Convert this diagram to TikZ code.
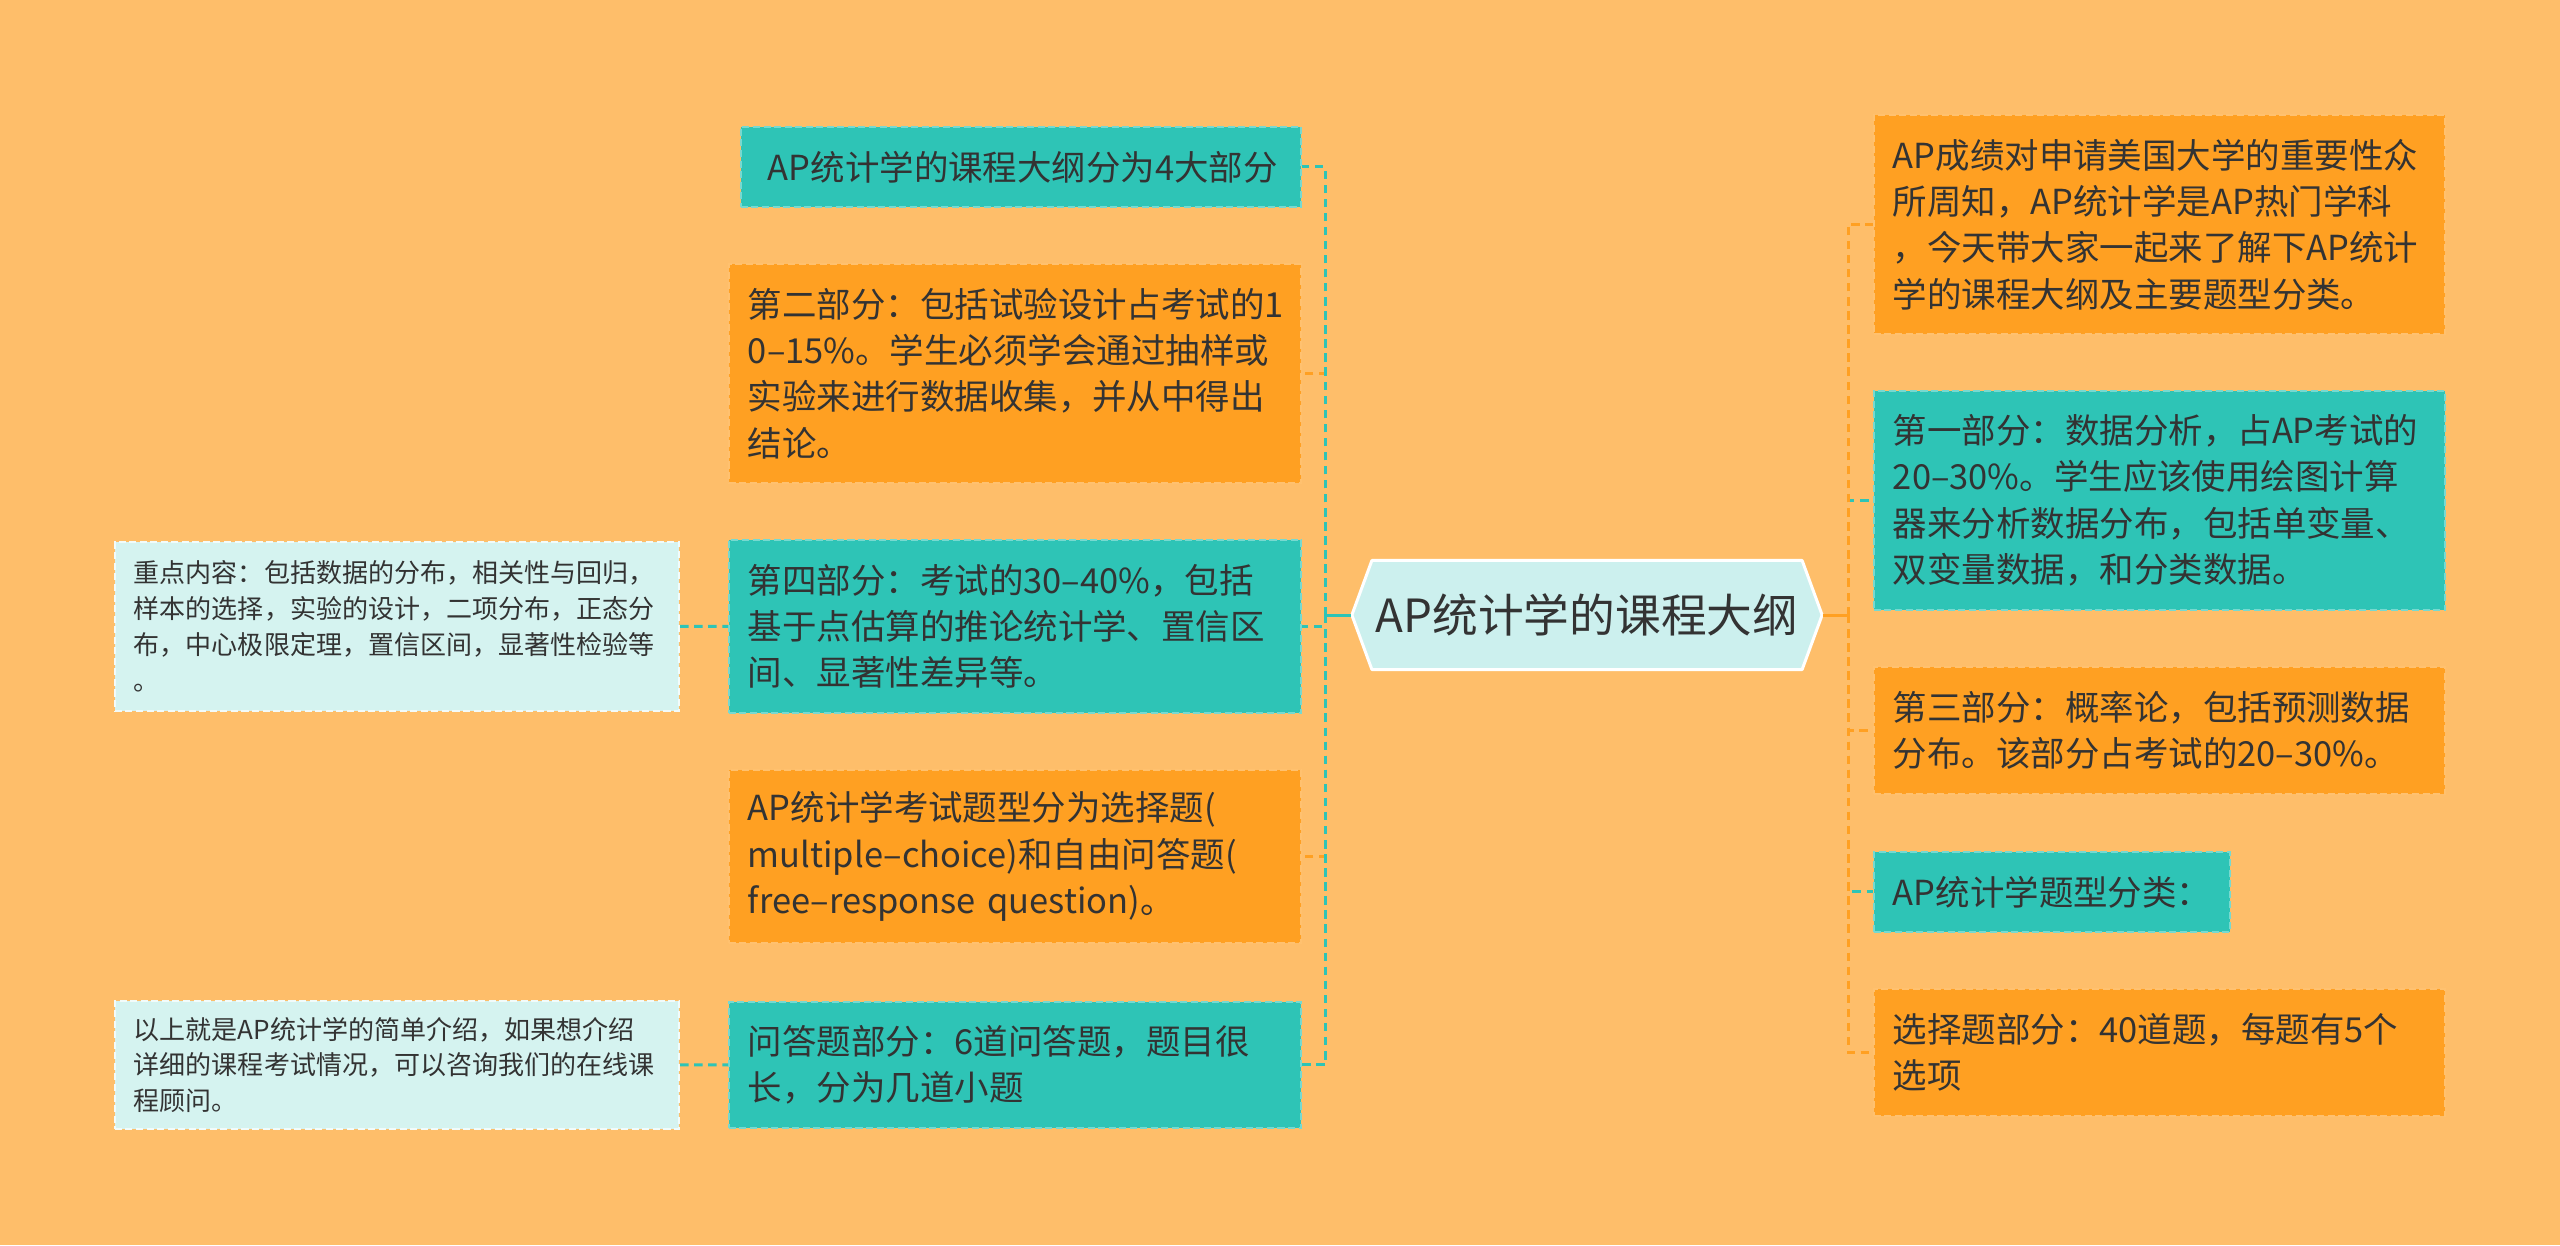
\documentclass[tikz,border=0pt]{standalone}
\usepackage{fontspec}
\setmainfont{Noto Sans CJK SC}
\definecolor{bgorange}{HTML}{FEBE6A}
\definecolor{boxorange}{HTML}{FFA022}
\definecolor{boxteal}{HTML}{2EC4B6}
\definecolor{notecyan}{HTML}{D5F3F0}
\definecolor{hexcyan}{HTML}{CCF0EE}
\definecolor{inkgray}{HTML}{333333}
\usepackage{tikz}

\begin{document}
\begin{tikzpicture}[x=0.01cm,y=-0.01cm,
    box/.style={anchor=north west,draw,dashed,dash pattern=on 2pt off 1pt,
      line width=0.5pt,align=left,text=inkgray,inner xsep=0.19cm,
      font=\fontsize{9.8}{13.2}\selectfont},
    orangebox/.style={box,fill=boxorange,draw=boxorange!65!white},
    tealbox/.style={box,fill=boxteal,draw=boxteal!65!white},
    notebox/.style={box,fill=notecyan,draw=white!70!notecyan,
      font=\fontsize{7.4}{10.2}\selectfont},
    orangeline/.style={draw=boxorange,line width=0.85pt,dash pattern=on 2.4pt off 1.6pt},
    tealline/.style={draw=boxteal,line width=0.85pt,dash pattern=on 2.4pt off 1.6pt}]
  \path[use as bounding box] (0,0) rectangle (2560,1245);
  \fill[bgorange] (0,0) rectangle (2560,1245);

  % centre
  \coordinate (mc) at (1587,615);
  \filldraw[fill=hexcyan,draw=white,line width=0.85pt,line join=round]
    ([xshift=-2.35cm]mc) -- ([shift={(-2.15cm,0.545cm)}]mc)
    -- ([shift={(2.15cm,0.545cm)}]mc) -- ([xshift=2.35cm]mc)
    -- ([shift={(2.15cm,-0.545cm)}]mc) -- ([shift={(-2.15cm,-0.545cm)}]mc)
    -- cycle;
  \node[minimum width=4.7cm,minimum height=1.09cm,inner sep=0,text=inkgray,
    font=\fontsize{13}{16}\selectfont] (main) at (mc) {AP统计学的课程大纲};

  % left column
  \node[tealbox,text width=5.06cm,inner xsep=0.27cm,minimum height=0.8cm]
    (syllabus) at (740,126) {AP统计学的课程大纲分为4大部分};
  \node[orangebox,text width=5.34cm,minimum height=2.19cm] (part2) at (728,263)
    {第二部分：包括试验设计占考试的1\\0–15\%。学生必须学会通过抽样或\\
     实验来进行数据收集，并从中得出\\结论。};
  \node[tealbox,text width=5.34cm,minimum height=1.73cm] (part4) at (728,539)
    {第四部分：考试的30–40\%，包括\\基于点估算的推论统计学、置信区\\
     间、显著性差异等。};
  \node[orangebox,text width=5.34cm,minimum height=1.73cm] (qtypes) at (728,769)
    {AP统计学考试题型分为选择题(\\multiple–choice)和自由问答题(\\
     free–response question)。};
  \node[tealbox,text width=5.34cm,minimum height=1.26cm] (frq) at (728,1001)
    {问答题部分：6道问答题，题目很\\长，分为几道小题};

  % notes on the far left
  \node[notebox,text width=5.26cm,minimum height=1.69cm] (keypts) at (114,541)
    {重点内容：包括数据的分布，相关性与回归，\\样本的选择，实验的设计，二项分布，正态分\\
     布，中心极限定理，置信区间，显著性检验等\\。};
  \node[notebox,text width=5.26cm,minimum height=1.28cm] (closing) at (114,1000)
    {以上就是AP统计学的简单介绍，如果想介绍\\详细的课程考试情况，可以咨询我们的在线课\\
     程顾问。};

  % right column
  \node[orangebox,text width=5.33cm,minimum height=2.19cm] (intro) at (1873,114)
    {AP成绩对申请美国大学的重要性众\\所周知，AP统计学是AP热门学科\\
     ，今天带大家一起来了解下AP统计\\学的课程大纲及主要题型分类。};
  \node[tealbox,text width=5.33cm,minimum height=2.19cm] (part1) at (1873,390)
    {第一部分：数据分析，占AP考试的\\20–30\%。学生应该使用绘图计算\\
     器来分析数据分布，包括单变量、\\双变量数据，和分类数据。};
  \node[orangebox,text width=5.33cm,minimum height=1.27cm] (part3) at (1873,666)
    {第三部分：概率论，包括预测数据\\分布。该部分占考试的20–30\%。};
  \node[tealbox,text width=3.18cm,minimum height=0.8cm] (typecls) at (1873,851)
    {AP统计学题型分类：};
  \node[orangebox,text width=5.33cm,minimum height=1.27cm] (mcq) at (1873,988)
    {选择题部分：40道题，每题有5个\\选项};

  % connectors
  \coordinate (lj) at (1325,615);
  \coordinate (rj) at (1848,615);
  \foreach \n in {part2,qtypes}
    \draw[orangeline] (lj) |- (\n.east);
  \foreach \n in {syllabus,part4,frq}
    \draw[tealline] (lj) |- (\n.east);
  \draw[tealline,solid] (main.west) -- (lj);
  \foreach \n in {part1,typecls}
    \draw[tealline] (rj) |- (\n.west);
  \foreach \n in {intro,part3,mcq}
    \draw[orangeline] (rj) |- (\n.west);
  \draw[orangeline,solid] (main.east) -- (rj);
  \draw[tealline] (keypts.east) -- (part4.west);
  \draw[tealline] (closing.east) -- (frq.west);
\end{tikzpicture}
\end{document}
